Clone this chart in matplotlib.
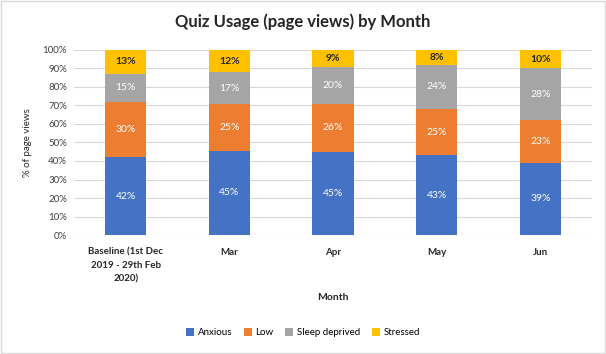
import numpy as np
import matplotlib.pyplot as plt

plt.rcParams['font.family'] = ['Lato', 'DejaVu Sans']

months = ["Baseline (1st Dec\n2019 - 29th Feb\n2020)", "Mar", "Apr", "May", "Jun"]
anxious = [42, 45, 45, 43, 39]
low = [30, 25, 26, 25, 23]
sleep_deprived = [15, 17, 20, 24, 28]
stressed = [13, 12, 9, 8, 10]

series = [
    ("Anxious", anxious, "#4472C4", "white"),
    ("Low", low, "#ED7D31", "white"),
    ("Sleep deprived", sleep_deprived, "#A5A5A5", "white"),
    ("Stressed", stressed, "#FFC000", "#262626"),
]

fig = plt.figure(figsize=(6.06, 3.54), dpi=100)
ax = fig.add_axes([0.122, 0.336, 0.855, 0.523])

totals = np.sum([s[1] for s in series], axis=0)
x = np.arange(len(months))
bottom = np.zeros(len(months))
for name, vals, color, tcol in series:
    share = np.array(vals) / totals * 100
    ax.bar(x, share, 0.4, bottom=bottom, color=color, label=name, zorder=2)
    for xi, b, h, v in zip(x, bottom, share, vals):
        ax.text(xi, b + h / 2, f"{v}%", ha="center", va="center", fontsize=7.5,
                color=tcol, fontweight="bold" if tcol != "white" else "normal")
    bottom += share

ax.set_xlim(-0.5, len(months) - 0.5)
ax.set_ylim(0, 100)
ax.set_yticks(np.arange(0, 101, 10))
ax.set_yticklabels([f"{v}%" for v in range(0, 101, 10)], fontsize=7, color="#404040")
ax.set_xticks(x)
ax.set_xticklabels(months, fontsize=7, color="#262626", fontweight="bold", linespacing=1.6)
ax.tick_params(axis="y", length=0, pad=5)
ax.tick_params(axis="x", length=0, pad=9)
ax.grid(axis="y", color="#D9D9D9", lw=0.8, zorder=0)
for sp in ax.spines.values():
    sp.set_visible(False)

ax.set_ylabel("% of page views", fontsize=7, color="#262626", labelpad=8)
ax.set_xlabel("Month", fontsize=7.5, color="#262626", fontweight="bold", labelpad=7)
fig.text(0.5, 0.94, "Quiz Usage (page views) by Month", ha="center", va="center",
         fontsize=12, color="#262626", fontweight="bold")

fig.legend(loc="center", bbox_to_anchor=(0.5, 0.06), ncol=4, frameon=False,
           fontsize=7, handlelength=0.8, handleheight=0.8, columnspacing=1.2,
           handletextpad=0.4)

fig.patches.append(plt.Rectangle((0.002, 0.003), 0.996, 0.994, transform=fig.transFigure,
                                 fill=False, edgecolor="#D9D9D9", lw=1))

fig.savefig("out.png", dpi=100)
